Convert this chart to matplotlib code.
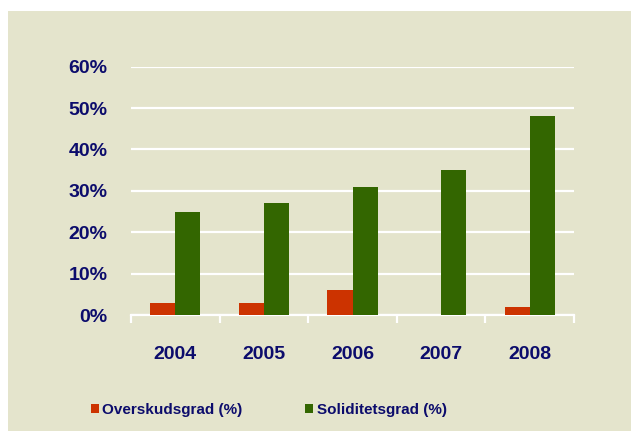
import matplotlib.pyplot as plt
import matplotlib.patches as mpatches
from matplotlib.ticker import MultipleLocator, FixedLocator, FixedFormatter
import numpy as np

years = ['2004', '2005', '2006', '2007', '2008']
overskudsgrad = [3, 3, 6, 0, 2]
soliditetsgrad = [25, 27, 31, 35, 48]
series_names = ['Overskudsgrad (%)', 'Soliditetsgrad (%)']

BG = '#E4E4CC'
TXT = '#0C0C6C'
RED = '#CC3300'
GREEN = '#336600'

plt.rcParams['font.family'] = ['Liberation Sans', 'DejaVu Sans']
plt.rcParams['font.weight'] = 'bold'

fig = plt.figure(figsize=(6.31, 4.32), dpi=100)
fig.patch.set_facecolor('white')
# panel background (white margin on top and left)
fig.patches.append(mpatches.Rectangle((8 / 631, 1 / 432), 623 / 631, 420 / 432,
                                      transform=fig.transFigure, facecolor=BG,
                                      edgecolor='none', zorder=-10))

ax = fig.add_axes([131 / 631, 117 / 432, 443 / 631, 248.3 / 432])
ax.set_facecolor('none')

x = np.arange(len(years))
w = 0.283
b1 = ax.bar(x - w / 2, overskudsgrad, w, color=RED, label=series_names[0], zorder=3)
b2 = ax.bar(x + w / 2, soliditetsgrad, w, color=GREEN, label=series_names[1], zorder=3)

ax.set_xlim(-0.5, len(years) - 0.5)
ax.set_ylim(0, 60)
ax.yaxis.set_major_locator(MultipleLocator(10))
ax.set_yticklabels([f'{int(v)}%' for v in ax.get_yticks()])
ax.yaxis.grid(True, color='white', linewidth=1.6, zorder=1)
ax.tick_params(axis='y', length=0, pad=17, labelsize=14, labelcolor=TXT)

# category boundary ticks, labels at centers
ax.xaxis.set_major_locator(FixedLocator(np.arange(-0.5, len(years), 1.0)))
ax.xaxis.set_major_formatter(FixedFormatter([''] * (len(years) + 1)))
ax.xaxis.set_minor_locator(FixedLocator(x))
ax.xaxis.set_minor_formatter(FixedFormatter(years))
ax.tick_params(axis='x', which='major', length=6, width=1.6, color='white', direction='out')
ax.tick_params(axis='x', which='minor', length=0, pad=22, labelsize=14, labelcolor=TXT)

for side in ['top', 'right', 'left']:
    ax.spines[side].set_visible(False)
ax.spines['bottom'].set_color('white')
ax.spines['bottom'].set_linewidth(1.6)

leg = fig.legend(handles=[b1, b2], loc='center left', bbox_to_anchor=(91 / 631, 22 / 432),
                 ncol=2, frameon=False, fontsize=11, handlelength=0.5, handleheight=0.5,
                 handletextpad=0.25, columnspacing=4.1, borderpad=0, borderaxespad=0)
for t in leg.get_texts():
    t.set_color(TXT)

fig.savefig('out.png', dpi=100)
